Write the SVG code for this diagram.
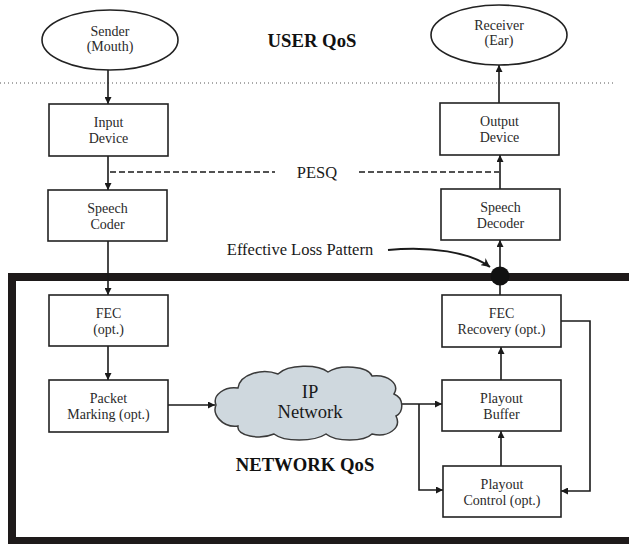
<svg xmlns="http://www.w3.org/2000/svg" width="629" height="544" viewBox="0 0 629 544">
<defs>
<marker id="ah" viewBox="0 0 10 10" refX="10" refY="5" markerWidth="7" markerHeight="7" markerUnits="userSpaceOnUse" orient="auto">
<path d="M0,0 L10,5 L0,10 Z" fill="#1a1a1a"/>
</marker>
<marker id="ah2" viewBox="0 0 10 10" refX="10" refY="5" markerWidth="9" markerHeight="9" markerUnits="userSpaceOnUse" orient="auto">
<path d="M0,0 L10,5 L0,10 L3,5 Z" fill="#1a1a1a"/>
</marker>
<style>
.box{fill:#fff;stroke:#222;stroke-width:1.6}
.el{fill:#fff;stroke:#222;stroke-width:1.6}
.t{font-family:"Liberation Serif","Times New Roman",serif;font-size:14px;fill:#2a2a2a;text-anchor:middle}
.big{font-family:"Liberation Serif","Times New Roman",serif;font-size:16.5px;fill:#1a1a1a;text-anchor:middle}
.bold{font-family:"Liberation Serif","Times New Roman",serif;font-size:18.7px;font-weight:bold;fill:#111;text-anchor:middle}
.ln{fill:none;stroke:#1a1a1a;stroke-width:1.6}
.arr{fill:none;stroke:#1a1a1a;stroke-width:1.6;marker-end:url(#ah)}
</style>
</defs>
<rect width="629" height="544" fill="#fff"/>
<line x1="0" y1="83" x2="614" y2="83" stroke="#555" stroke-width="1" stroke-dasharray="1,3"/>
<path d="M640,277 H12 V541 H640" fill="none" stroke="#1e1a1a" stroke-width="8"/>
<text class="bold" x="312" y="47">USER QoS</text>
<text class="bold" x="305" y="471">NETWORK QoS</text>
<text class="big" x="317" y="178">PESQ</text>
<text class="big" x="300" y="255">Effective Loss Pattern</text>
<g id="connectors">
<line class="arr" x1="108" y1="70" x2="108" y2="104"/>
<line class="arr" x1="108" y1="156" x2="108" y2="190"/>
<line class="arr" x1="108" y1="241" x2="108" y2="295"/>
<line class="arr" x1="108" y1="346" x2="108" y2="380"/>
<line class="arr" x1="168" y1="405" x2="215" y2="405"/>
<line class="arr" x1="402" y1="404" x2="442" y2="404"/>
<polyline class="arr" points="419,404 419,490 443,490"/>
<polyline class="arr" points="561,321 590,321 590,491 561,491"/>
<line class="arr" x1="501" y1="466" x2="501" y2="431"/>
<line class="arr" x1="501" y1="380" x2="501" y2="347"/>
<line class="arr" x1="500" y1="295" x2="500" y2="240"/>
<line class="arr" x1="500" y1="189" x2="500" y2="155"/>
<line class="arr" x1="499" y1="103" x2="499" y2="65"/>
<line x1="110" y1="172" x2="275" y2="172" stroke="#1a1a1a" stroke-width="1.6" stroke-dasharray="6,3"/>
<line x1="359" y1="172" x2="499" y2="172" stroke="#1a1a1a" stroke-width="1.6" stroke-dasharray="6,3"/>
<path d="M388,250 C430,246 470,252 490,267" fill="none" stroke="#1a1a1a" stroke-width="2" marker-end="url(#ah2)"/>
<circle cx="500" cy="276" r="9.5" fill="#111"/>
</g>
<g id="sender"><ellipse class="el" cx="110" cy="40" rx="68" ry="30"/><text class="t" x="110" y="36">Sender</text><text class="t" x="110" y="51">(Mouth)</text></g>
<g id="receiver"><ellipse class="el" cx="499" cy="35" rx="68" ry="30"/><text class="t" x="499" y="30">Receiver</text><text class="t" x="499" y="45">(Ear)</text></g>
<g id="input-device"><rect class="box" x="49" y="104" width="119" height="52"/><text class="t" x="108.5" y="127">Input</text><text class="t" x="108.5" y="143">Device</text></g>
<g id="speech-coder"><rect class="box" x="48" y="190" width="119" height="51"/><text class="t" x="107.5" y="213">Speech</text><text class="t" x="107.5" y="229">Coder</text></g>
<g id="output-device"><rect class="box" x="440" y="103" width="119" height="52"/><text class="t" x="499.5" y="126">Output</text><text class="t" x="499.5" y="142">Device</text></g>
<g id="speech-decoder"><rect class="box" x="441" y="189" width="119" height="51"/><text class="t" x="500.5" y="212">Speech</text><text class="t" x="500.5" y="228">Decoder</text></g>
<g id="fec"><rect class="box" x="49" y="295" width="119" height="51"/><text class="t" x="108.5" y="318">FEC</text><text class="t" x="108.5" y="334">(opt.)</text></g>
<g id="packet-marking"><rect class="box" x="49" y="380" width="119" height="52"/><text class="t" x="108.5" y="403">Packet</text><text class="t" x="108.5" y="419">Marking (opt.)</text></g>
<g id="ip-network"><path d="M216,405 C212,395 225,386 238,388 C240,374 262,368 278,374 C288,364 318,364 328,372 C340,364 368,366 372,376 C388,374 400,384 394,394 C404,398 404,412 396,416 C402,428 388,438 372,434 C364,442 336,442 326,434 C314,442 284,442 274,434 C260,440 236,436 238,426 C222,428 212,414 216,405 Z" fill="#cfd8de" stroke="#3a3a3a" stroke-width="1.5"/><text class="big" style="font-size:18.6px" x="310" y="398">IP</text><text class="big" style="font-size:18.6px" x="310" y="418">Network</text></g>
<g id="fec-recovery"><rect class="box" x="442" y="295" width="119" height="52"/><text class="t" x="501.5" y="318">FEC</text><text class="t" x="501.5" y="334">Recovery (opt.)</text></g>
<g id="playout-buffer"><rect class="box" x="442" y="380" width="119" height="51"/><text class="t" x="501.5" y="403">Playout</text><text class="t" x="501.5" y="419">Buffer</text></g>
<g id="playout-control"><rect class="box" x="443" y="466" width="118" height="51"/><text class="t" x="502" y="489">Playout</text><text class="t" x="502" y="505">Control (opt.)</text></g>
</svg>
